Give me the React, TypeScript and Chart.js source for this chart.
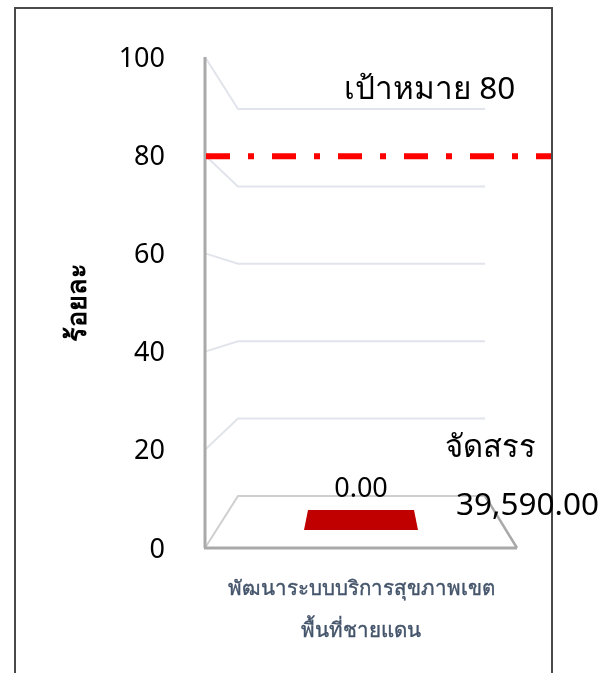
import React, { useEffect, useRef } from "react";
import { Chart, registerables } from "chart.js";

Chart.register(...registerables);

const categories = [["พัฒนาระบบบริการสุขภาพเขต", "พื้นที่ชายแดน"]];
const spentValues = [0.0];
const allocatedValue = 39590.0;
const targetValue = 80;
const targetLabel = "เป้าหมาย 80";
const allocatedLabel = "จัดสรร";
const yTitle = "ร้อยละ";
const yTicks = [0, 20, 40, 60, 80, 100];

const FONT = '"Noto Sans", Tahoma, sans-serif';

const perspective = {
  id: "perspective",
  beforeDatasetsDraw(chart: any) {
    const { ctx, chartArea: a, scales } = chart;
    const y = scales.y;
    const depthX = 33;
    const backRight = a.right - 32;
    const backY = (v: number) => y.getPixelForValue(10.6 + 0.788 * v);
    ctx.save();
    ctx.lineCap = "butt";
    ctx.lineJoin = "miter";
    // walls' gridlines
    for (const t of yTicks) {
      if (t === 0) continue;
      ctx.strokeStyle = "#e1e4ea";
      ctx.lineWidth = 2;
      ctx.beginPath();
      ctx.moveTo(a.left, y.getPixelForValue(t));
      ctx.lineTo(a.left + depthX, backY(t));
      ctx.lineTo(backRight, backY(t));
      ctx.stroke();
    }
    // floor
    ctx.strokeStyle = "#cfcfcf";
    ctx.lineWidth = 2;
    ctx.beginPath();
    ctx.moveTo(a.left, a.bottom);
    ctx.lineTo(a.left + depthX, backY(0));
    ctx.lineTo(backRight, backY(0));
    ctx.stroke();
    ctx.strokeStyle = "#a9a9a9";
    ctx.lineWidth = 2.5;
    ctx.beginPath();
    ctx.moveTo(backRight, backY(0));
    ctx.lineTo(a.right, a.bottom);
    ctx.stroke();
    ctx.lineWidth = 3;
    ctx.beginPath();
    ctx.moveTo(a.left - 1, a.bottom);
    ctx.lineTo(a.right, a.bottom);
    ctx.stroke();
    ctx.beginPath();
    ctx.moveTo(a.left, y.getPixelForValue(100));
    ctx.lineTo(a.left, a.bottom);
    ctx.stroke();
    // footprint of the zero-height bar
    const bar = chart.getDatasetMeta(0).data[0];
    const half = bar.width / 2;
    const yFront = y.getPixelForValue(3.67);
    const yBack = y.getPixelForValue(7.74);
    ctx.fillStyle = "#c00000";
    ctx.beginPath();
    ctx.moveTo(bar.x - half, yFront);
    ctx.lineTo(bar.x + half, yFront);
    ctx.lineTo(bar.x + half - 4, yBack);
    ctx.lineTo(bar.x - half + 4, yBack);
    ctx.closePath();
    ctx.fill();
    ctx.restore();
  },
  afterDraw(chart: any) {
    const { ctx, chartArea: a, scales } = chart;
    const y = scales.y;
    const bar = chart.getDatasetMeta(0).data[0];
    ctx.save();
    // target line
    const ty = y.getPixelForValue(targetValue);
    ctx.strokeStyle = "#ff0000";
    ctx.lineWidth = 6;
    ctx.setLineDash([24, 18, 6, 18]);
    ctx.beginPath();
    ctx.moveTo(a.left + 1, ty + 1);
    ctx.lineTo(551, ty + 1);
    ctx.stroke();
    ctx.setLineDash([]);
    // labels
    ctx.fillStyle = "#000000";
    ctx.textBaseline = "middle";
    ctx.font = `27px ${FONT}`;
    ctx.textAlign = "center";
    ctx.fillText(spentValues[0].toFixed(2), bar.x, y.getPixelForValue(12));
    ctx.textAlign = "left";
    ctx.font = `31px ${FONT}`;
    ctx.fillText(allocatedLabel, 445, y.getPixelForValue(20.4));
    ctx.font = `31.5px ${FONT}`;
    ctx.fillText(targetLabel, 344, y.getPixelForValue(93.2));
    ctx.fillText(
      allocatedValue.toLocaleString("en-US", { minimumFractionDigits: 2 }),
      456,
      y.getPixelForValue(8.6)
    );
    ctx.restore();
  },
};

export default function App() {
  const ref = useRef<HTMLCanvasElement>(null);
  useEffect(() => {
    const chart = new Chart(ref.current!, {
      type: "bar",
      data: {
        labels: categories as any,
        datasets: [
          {
            label: "ใช้ไป",
            data: spentValues,
            backgroundColor: "transparent",
            barThickness: 114,
          },
        ],
      },
      plugins: [perspective],
      options: {
        animation: false,
        responsive: false,
        devicePixelRatio: 1,
        layout: { padding: { left: 62, top: 57, right: 85, bottom: 0 } },
        plugins: { legend: { display: false }, tooltip: { enabled: false } },
        scales: {
          x: {
            grid: { display: false },
            border: { display: false },
            ticks: {
              color: "#44546a",
              textStrokeColor: "#44546a",
              textStrokeWidth: 0.4,
              padding: 12,
              maxRotation: 0,
              font: { family: FONT, size: 20.5, lineHeight: 2.05 },
            },
            afterFit: (s: any) => {
              s.height = 125;
            },
          },
          y: {
            min: 0,
            max: 100,
            afterBuildTicks: (s: any) => {
              s.ticks = yTicks.map((value) => ({ value }));
            },
            grid: { display: false },
            border: { display: false },
            title: {
              display: true,
              text: yTitle,
              color: "#000000",
              padding: 0,
              font: { family: FONT, size: 27, weight: "bold" as any },
            },
            ticks: {
              color: "#000000",
              padding: 32,
              labelOffset: 2,
              font: { family: FONT, size: 27 },
            },
            afterFit: (s: any) => {
              s.width = 143;
            },
          },
        },
      },
    });
    return () => chart.destroy();
  }, []);
  return (
    <div style={{ position: "fixed", left: 0, top: 0, width: 602, height: 673, overflow: "hidden", background: "#fff" }}>
      <div
        style={{
          position: "absolute",
          left: 14,
          top: 7,
          width: 535,
          height: 680,
          border: "2px solid #4a4a4a",
        }}
      />
      <canvas ref={ref} width={602} height={673} style={{ position: "absolute", left: 0, top: 0, display: "block" }} />
    </div>
  );
}
